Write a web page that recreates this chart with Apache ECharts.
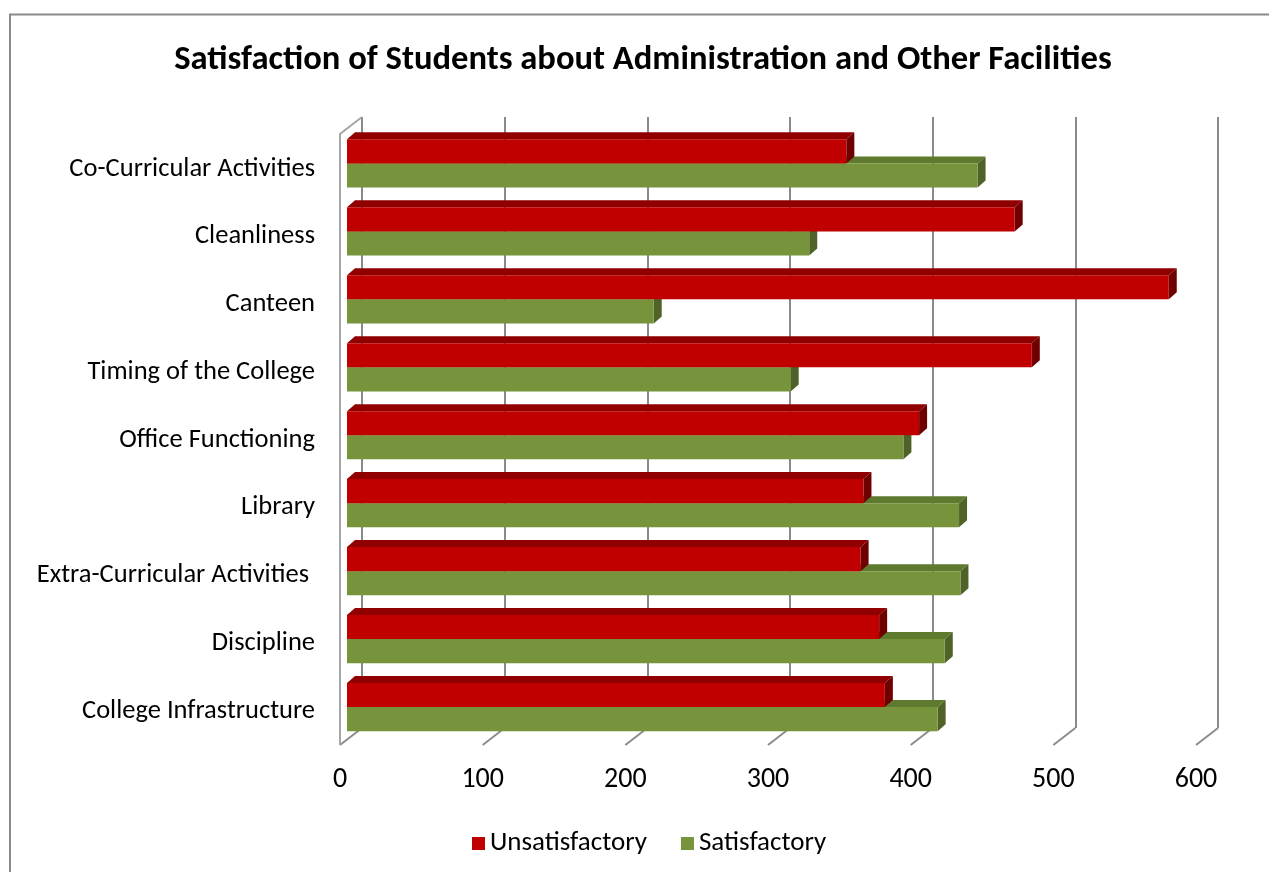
<!DOCTYPE html>
<html>
<head>
<meta charset="utf-8">
<title>Satisfaction of Students</title>
<script src="https://cdn.jsdelivr.net/npm/echarts@6/dist/echarts.min.js"></script>
<style>
  html, body { margin: 0; padding: 0; background: #fff; }
  #main { width: 1269px; height: 872px; }
</style>
</head>
<body>
<div id="main"></div>
<script>
// data (bottom category first)
const categories = ['College Infrastructure', 'Discipline', 'Extra-Curricular Activities ', 'Library',
  'Office Functioning', 'Timing of the College', 'Canteen', 'Cleanliness', 'Co-Curricular Activities'];
const unsatisfactory = [377, 373, 360, 362, 401, 480, 576, 468, 350];
const satisfactory = [414, 419, 430, 429, 390, 311, 215, 324, 442];
const xTicks = [0, 100, 200, 300, 400, 500, 600];

const FONT = 'Carlito, Calibri, Lato, sans-serif';
const BAR_DX = 8, BAR_DY = 7;     // bar depth
const WALL_DX = 22, WALL_DY = 17; // wall depth (back -> front)
const BAR_FRAC = 0.355;

// 3d-ish bar: front face + top face + side face
function barRenderer(upper, front, top, side) {
  return function (params, api) {
    const idx = api.value(1);
    const v = api.value(0);
    const p0 = api.coord([0, idx]);
    const p1 = api.coord([v, idx]);
    const h = api.size([0, 1])[1] * BAR_FRAC;
    const x0 = p0[0], x1 = p1[0];
    const y0 = upper ? p0[1] - h : p0[1];
    return {
      type: 'group',
      children: [
        { type: 'polygon', shape: { points: [[x0, y0], [x0 + BAR_DX, y0 - BAR_DY], [x1 + BAR_DX, y0 - BAR_DY], [x1, y0]] },
          style: { fill: top } },
        { type: 'polygon', shape: { points: [[x1, y0], [x1 + BAR_DX, y0 - BAR_DY], [x1 + BAR_DX, y0 + h - BAR_DY], [x1, y0 + h]] },
          style: { fill: side } },
        { type: 'rect', shape: { x: x0, y: y0, width: x1 - x0, height: h },
          style: { fill: front } }
      ]
    };
  };
}

// floor ticks and left wall, from the back wall axis
function wallRenderer(params, api) {
  const v = api.value(0);
  const b = api.coord([v, 0]);
  const children = [
    { type: 'line', shape: { x1: b[0], y1: b[1], x2: b[0] - WALL_DX, y2: b[1] + WALL_DY },
      style: { stroke: '#8c8c8c', lineWidth: 2 } }
  ];
  if (v === 0) {
    const t = api.coord([0, 1]);
    children.push({
      type: 'polyline',
      shape: { points: [[t[0], t[1]], [t[0] - WALL_DX, t[1] + WALL_DY], [b[0] - WALL_DX, b[1] + WALL_DY]] },
      style: { stroke: '#a6a6a6', lineWidth: 2, fill: null }
    });
  }
  return { type: 'group', children: children };
}

const chart = echarts.init(document.getElementById('main'));
chart.setOption({
  backgroundColor: '#fff',
  animation: false,
  title: {
    text: 'Satisfaction of Students about Administration and Other Facilities',
    left: 638, top: 38, textAlign: 'center',
    textStyle: { fontFamily: FONT, fontSize: 34.6, fontWeight: 'bold', color: '#000' }
  },
  legend: {
    data: ['Unsatisfactory', 'Satisfactory'],
    left: 467, top: 825,
    icon: 'rect', itemWidth: 13, itemHeight: 13, itemGap: 34,
    textStyle: { fontFamily: FONT, fontSize: 27, color: '#000' }
  },
  graphic: [{
    type: 'rect', silent: true, z: -1,
    shape: { x: 10, y: 14.5, width: 1400, height: 1000 },
    style: { fill: null, stroke: '#8a8a8a', lineWidth: 2 }
  }],
  grid: [
    { left: 347, right: 66, top: 129.5, bottom: 131 }, // bar front plane
    { left: 362, right: 51, top: 117, bottom: 144 },   // back wall
    { left: 340, right: 73, top: 135, bottom: 127 }    // front plane, labels
  ],
  xAxis: [
    { gridIndex: 0, type: 'value', min: 0, max: 600, interval: 100, show: false },
    { gridIndex: 1, type: 'value', min: 0, max: 600, interval: 100,
      axisLine: { show: false }, axisTick: { show: false }, axisLabel: { show: false },
      splitLine: { show: true, lineStyle: { color: '#8a8a8a', width: 2 } } },
    { gridIndex: 2, type: 'value', min: 0, max: 600, interval: 100,
      axisLine: { show: false }, axisTick: { show: false }, splitLine: { show: false },
      axisLabel: { margin: 21, fontFamily: FONT, fontSize: 28, color: '#000' } }
  ],
  yAxis: [
    { gridIndex: 0, type: 'category', data: categories, show: false },
    { gridIndex: 1, type: 'value', min: 0, max: 1, show: false },
    { gridIndex: 2, type: 'category', data: categories,
      axisLine: { show: false }, axisTick: { show: false },
      axisLabel: { margin: 25, fontFamily: FONT, fontSize: 26.5, color: '#000' } }
  ],
  series: [
    {
      name: 'Walls', type: 'custom', xAxisIndex: 1, yAxisIndex: 1, silent: true, z: 1,
      data: xTicks.map(v => [v, 0]), encode: { x: 0, y: 1 },
      renderItem: wallRenderer, clip: false
    },
    {
      name: 'Unsatisfactory', type: 'custom', xAxisIndex: 0, yAxisIndex: 0, z: 4,
      itemStyle: { color: '#C00000' },
      data: unsatisfactory.map((v, i) => [v, i]), encode: { x: 0, y: 1 },
      renderItem: barRenderer(true, '#C00000', '#900000', '#6E0000'), clip: false
    },
    {
      name: 'Satisfactory', type: 'custom', xAxisIndex: 0, yAxisIndex: 0, z: 3,
      itemStyle: { color: '#77933C' },
      data: satisfactory.map((v, i) => [v, i]), encode: { x: 0, y: 1 },
      renderItem: barRenderer(false, '#77933C', '#5E7A2E', '#4F6228'), clip: false
    }
  ]
});
</script>
</body>
</html>
